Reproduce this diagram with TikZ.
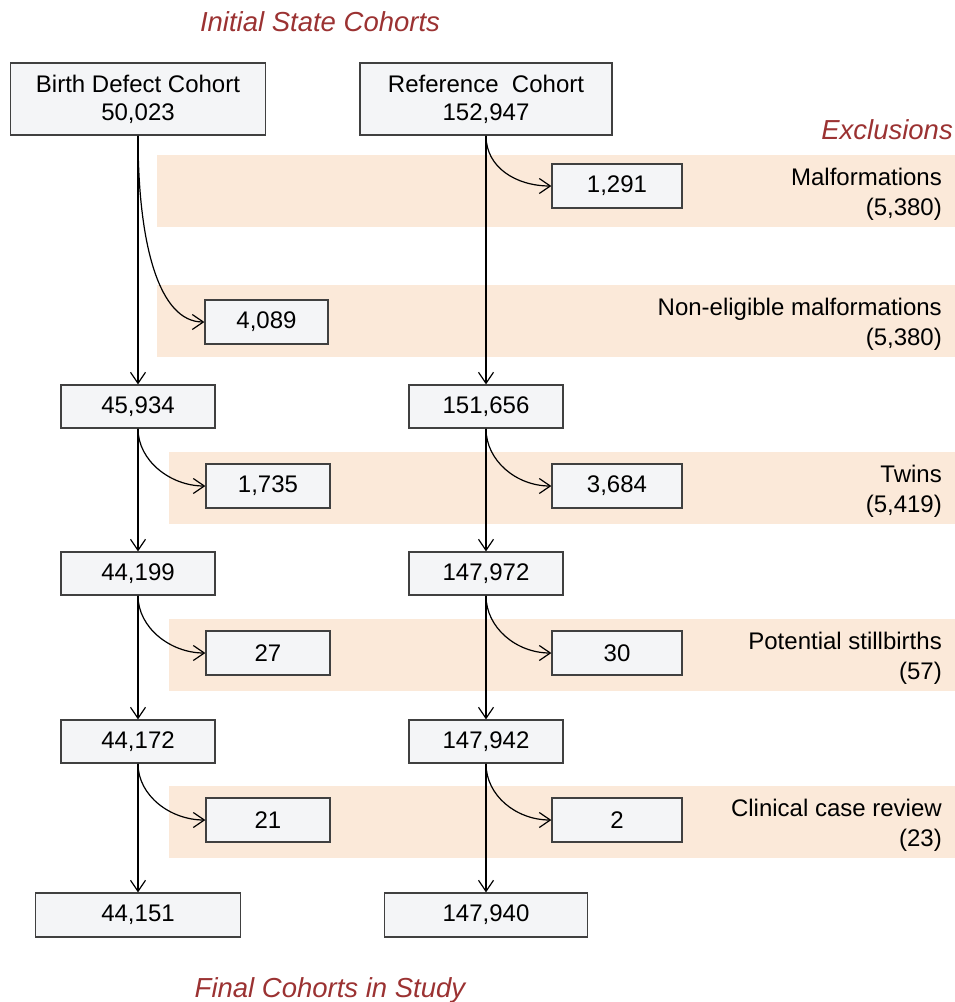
\documentclass[tikz,border=0pt]{standalone}
\usepackage{fontspec}
\setmainfont{Liberation Sans}
\usetikzlibrary{arrows.meta}

\definecolor{boxfill}{RGB}{244,245,247}
\definecolor{boxline}{RGB}{64,64,64}
\definecolor{bandfill}{RGB}{251,233,217}
\definecolor{headred}{RGB}{155,50,50}

\tikzset{
  cbox/.style={draw=boxline, fill=boxfill, line width=1.3pt, inner sep=0pt, align=center, font=\fontsize{24}{28}\selectfont},
  bandtext/.style={anchor=east, align=right, inner sep=0pt, font=\fontsize{24}{30}\selectfont},
  head/.style={text=headred, inner sep=0pt, font=\fontsize{27.5}{32}\selectfont\itshape},
  flow/.style={line width=1.2pt, -{Straight Barb[length=11pt,width=15pt]}},
}

\begin{document}
\begin{tikzpicture}[x=1pt,y=1pt,yscale=-1,xscale=1]
\useasboundingbox (0,0) rectangle (955,1002);

%Shape: Rectangle
\fill [bandfill] (157,155) rectangle (955,227) ;
%Shape: Rectangle
\fill [bandfill] (157,285) rectangle (955,357) ;
%Shape: Rectangle
\fill [bandfill] (169,452) rectangle (955,524) ;
%Shape: Rectangle
\fill [bandfill] (169,619) rectangle (955,691) ;
%Shape: Rectangle
\fill [bandfill] (169,786) rectangle (955,858) ;

% Text Node
\node [head] (initial) at (320,22) {Initial State Cohorts};
% Text Node
\node [head, anchor=east] (excl) at (953,130) {Exclusions};
% Text Node
\node [head] (final) at (330,990) {Final Cohorts in Study};

% Text Node
\node [bandtext] (malf) at (942,194) {Malformations\\(5,380)};
% Text Node
\node [bandtext] (noneli) at (942,324) {Non-eligible malformations\\(5,380)};
% Text Node
\node [bandtext] (twins) at (942,491) {Twins\\(5,419)};
% Text Node
\node [bandtext] (still) at (942,658) {Potential stillbirths\\(57)};
% Text Node
\node [bandtext] (review) at (942,825) {Clinical case review\\(23)};

%Shape: Rectangle
\node [cbox, minimum width=255, minimum height=72] (bd0) at (138,99) {Birth Defect Cohort\\50,023};
\node [cbox, minimum width=252, minimum height=72] (rf0) at (486,99) {Reference\ \ Cohort\\152,947};

\node [cbox, minimum width=154, minimum height=43] (bd1) at (138,406.5) {45,934};
\node [cbox, minimum width=154, minimum height=43] (rf1) at (486,406.5) {151,656};
\node [cbox, minimum width=154, minimum height=43] (bd2) at (138,573.5) {44,199};
\node [cbox, minimum width=154, minimum height=43] (rf2) at (486,573.5) {147,972};
\node [cbox, minimum width=154, minimum height=43] (bd3) at (138,741.5) {44,172};
\node [cbox, minimum width=154, minimum height=43] (rf3) at (486,741.5) {147,942};
\node [cbox, minimum width=205, minimum height=44] (bd4) at (138,915) {44,151};
\node [cbox, minimum width=203, minimum height=44] (rf4) at (486,915) {147,940};

%Shape: Rectangle
\node [cbox, minimum width=130, minimum height=44] (xr0) at (617,186) {1,291};
\node [cbox, minimum width=123, minimum height=44] (xb0) at (266.5,322) {4,089};
\node [cbox, minimum width=124, minimum height=44] (xb1) at (268,486) {1,735};
\node [cbox, minimum width=130, minimum height=44] (xr1) at (617,486) {3,684};
\node [cbox, minimum width=124, minimum height=44] (xb2) at (268,653) {27};
\node [cbox, minimum width=130, minimum height=44] (xr2) at (617,653) {30};
\node [cbox, minimum width=124, minimum height=44] (xb3) at (268,820) {21};
\node [cbox, minimum width=130, minimum height=44] (xr3) at (617,820) {2};

%Straight Lines
\draw [flow] (bd0.south) -- (bd1.north) ;
\draw [flow] (bd1.south) -- (bd2.north) ;
\draw [flow] (bd2.south) -- (bd3.north) ;
\draw [flow] (bd3.south) -- (bd4.north) ;
%Straight Lines
\draw [flow] (rf0.south) -- (rf1.north) ;
\draw [flow] (rf1.south) -- (rf2.north) ;
\draw [flow] (rf2.south) -- (rf3.north) ;
\draw [flow] (rf3.south) -- (rf4.north) ;

%Curve Lines
\draw [flow] (bd0.south) .. controls ([yshift=110pt]bd0.south) and ([xshift=-45pt]xb0.west) .. (xb0.west) ;
\draw [flow] (rf0.south) .. controls ([yshift=32pt]rf0.south) and ([xshift=-35pt]xr0.west) .. (xr0.west) ;
%Curve Lines
\draw [flow] (bd1.south) .. controls ([yshift=32pt]bd1.south) and ([xshift=-35pt]xb1.west) .. (xb1.west) ;
\draw [flow] (rf1.south) .. controls ([yshift=32pt]rf1.south) and ([xshift=-35pt]xr1.west) .. (xr1.west) ;
\draw [flow] (bd2.south) .. controls ([yshift=32pt]bd2.south) and ([xshift=-35pt]xb2.west) .. (xb2.west) ;
\draw [flow] (rf2.south) .. controls ([yshift=32pt]rf2.south) and ([xshift=-35pt]xr2.west) .. (xr2.west) ;
\draw [flow] (bd3.south) .. controls ([yshift=32pt]bd3.south) and ([xshift=-35pt]xb3.west) .. (xb3.west) ;
\draw [flow] (rf3.south) .. controls ([yshift=32pt]rf3.south) and ([xshift=-35pt]xr3.west) .. (xr3.west) ;

\end{tikzpicture}
\end{document}
